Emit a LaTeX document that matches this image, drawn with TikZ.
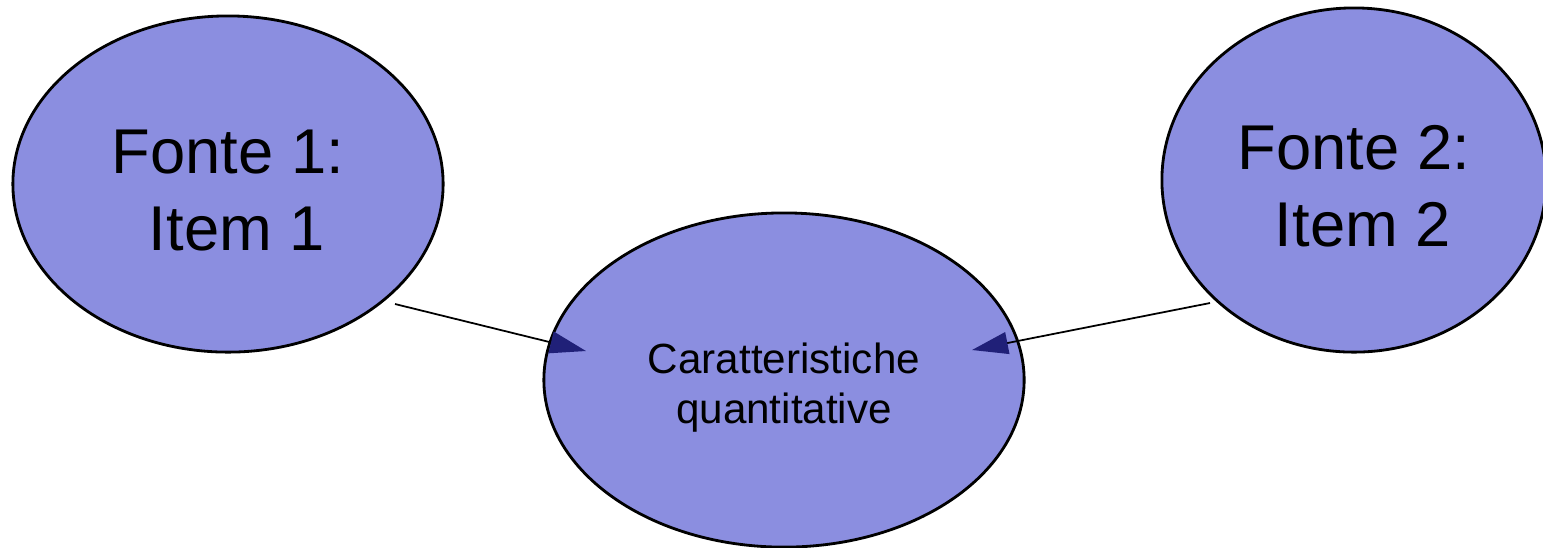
\documentclass[tikz,border=0pt]{standalone}
\usepackage{fontspec}
\setmainfont{Liberation Sans}
\usetikzlibrary{shapes.geometric, arrows.meta}
\definecolor{bubble}{RGB}{139,142,224}
\definecolor{tipblue}{RGB}{32,32,120}
\tikzset{
  bubble/.style={ellipse, draw=black, line width=0.8pt, fill=bubble, inner sep=0pt, align=center},
  link/.style={black, line width=0.5pt, -{Triangle[length=0.36cm, width=0.22cm, color=tipblue]}}
}
\begin{document}
\begin{tikzpicture}[x=0.01cm, y=-0.01cm]
            % Frame
            \useasboundingbox (0, 0) rectangle (1543, 547);
            \clip (0, 0) rectangle (1543, 547);
          
            % Sources
            \node (f1) [bubble, minimum width=4.3cm, minimum height=3.36cm,
              font=\fontsize{18}{21.9}\selectfont] at (228, 184)
              {\rule{0pt}{16pt}Fonte 1:\\ \hspace*{0.28em}Item 1};
            \node (f2) [bubble, minimum width=3.84cm, minimum height=3.44cm,
              font=\fontsize{18}{21.9}\selectfont] at (1354, 180)
              {\rule{0pt}{16pt}Fonte 2:\\ \hspace*{0.28em}Item 2};
          
            % Target
            \node (cq) [bubble, minimum width=4.8cm, minimum height=3.34cm,
              font=\fontsize{12}{14.2}\selectfont] at (784, 380)
              {\rule{0pt}{12.8pt}Caratteristiche\\ quantitative};
          
            % Links
            \coordinate (s1) at (395, 304);
            \coordinate (t1) at (586, 351);
            \coordinate (s2) at (1210, 303);
            \coordinate (t2) at (972, 350);
            \draw [link] (s1) -- (t1);
            \draw [link] (s2) -- (t2);
          
          \end{tikzpicture}
\end{document}
